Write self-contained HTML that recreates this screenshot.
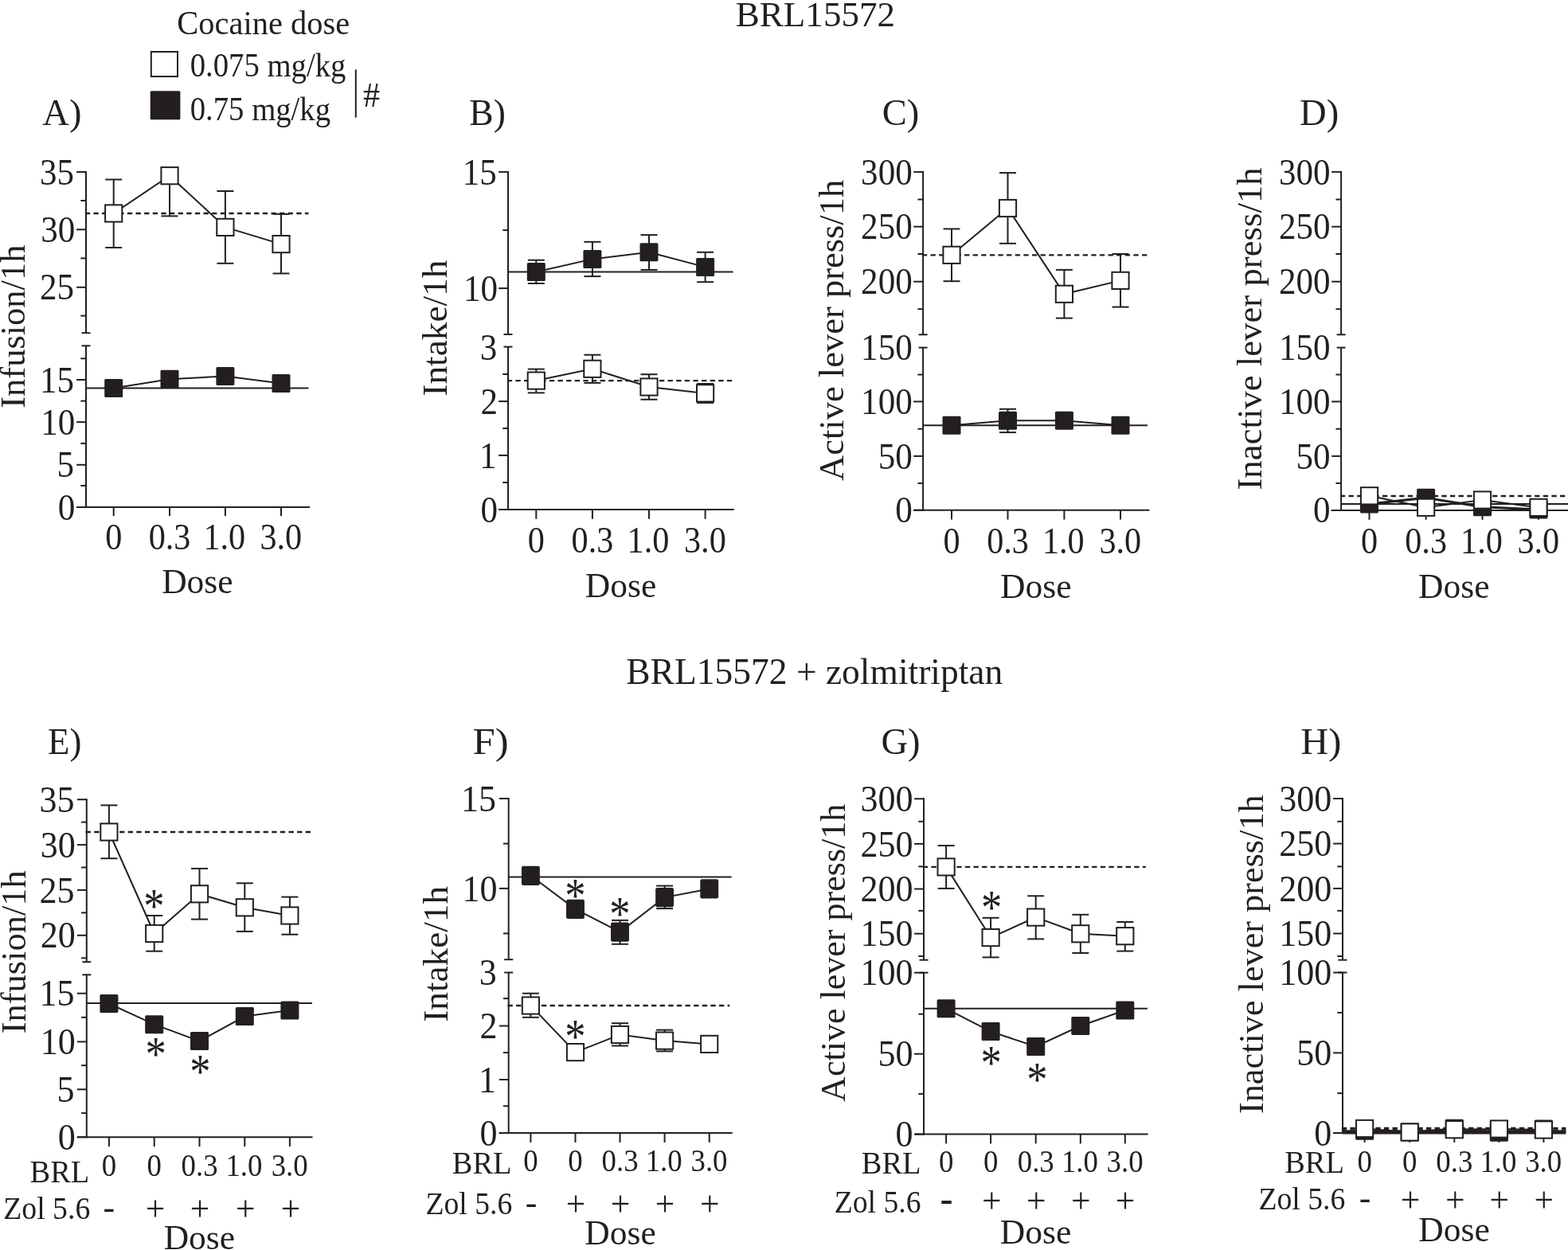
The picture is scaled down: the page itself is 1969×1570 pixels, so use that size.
<!DOCTYPE html>
<html lang="en">
<head>
<meta charset="utf-8">
<title>BRL15572 and zolmitriptan: cocaine self-administration</title>
<style>
html,body{margin:0;padding:0;background:#fff;}
body{width:1969px;height:1570px;overflow:hidden;}
svg{display:block;}
svg text{font-family:"Liberation Serif", "Times New Roman", Times, serif;fill:#231f20;}
svg line,svg polyline{stroke:#231f20;}
</style>
</head>
<body>
<svg width="1969" height="1570" viewBox="0 0 1969 1570" role="img" aria-label="Line charts of cocaine self-administration after BRL15572 alone and with zolmitriptan">
<rect width="1969" height="1570" fill="#fff"/>
<g id="panel-A">
<g class="axis">
<line x1="108" y1="215" x2="108" y2="418.2" stroke-width="2"/>
<line x1="108" y1="434.3" x2="108" y2="638" stroke-width="2"/>
<line x1="102.5" y1="418.2" x2="113.5" y2="418.2" stroke-width="2"/>
<line x1="102.5" y1="434.3" x2="113.5" y2="434.3" stroke-width="2"/>
<line x1="96.1" y1="216" x2="108" y2="216" stroke-width="2"/>
<line x1="96.1" y1="288.3" x2="108" y2="288.3" stroke-width="2"/>
<line x1="96.1" y1="360.8" x2="108" y2="360.8" stroke-width="2"/>
<line x1="96.1" y1="477" x2="108" y2="477" stroke-width="2"/>
<line x1="96.1" y1="530.15" x2="108" y2="530.15" stroke-width="2"/>
<line x1="96.1" y1="583.8" x2="108" y2="583.8" stroke-width="2"/>
<line x1="96.1" y1="637" x2="108" y2="637" stroke-width="2"/>
<line x1="101.3" y1="252" x2="108" y2="252" stroke-width="2"/>
<line x1="101.3" y1="324.4" x2="108" y2="324.4" stroke-width="2"/>
<line x1="101.3" y1="396.6" x2="108" y2="396.6" stroke-width="2"/>
<line x1="101.3" y1="450.3" x2="108" y2="450.3" stroke-width="2"/>
<line x1="101.3" y1="503.6" x2="108" y2="503.6" stroke-width="2"/>
<line x1="101.3" y1="556.9" x2="108" y2="556.9" stroke-width="2"/>
<line x1="101.3" y1="610" x2="108" y2="610" stroke-width="2"/>
<line x1="96.2" y1="637" x2="389" y2="637" stroke-width="2"/>
<line x1="142.7" y1="637" x2="142.7" y2="648" stroke-width="2"/>
<line x1="213" y1="637" x2="213" y2="648" stroke-width="2"/>
<line x1="282.9" y1="637" x2="282.9" y2="648" stroke-width="2"/>
<line x1="353" y1="637" x2="353" y2="648" stroke-width="2"/>
</g>
<g class="ticklabels">
<text transform="translate(50.04 231.6) scale(0.9490 1)" font-size="45.4">35</text>
<text transform="translate(51.33 303.9) scale(0.9490 1)" font-size="45.4">30</text>
<text transform="translate(50.04 376.4) scale(0.9490 1)" font-size="45.4">25</text>
<text transform="translate(50.04 492.6) scale(0.9490 1)" font-size="45.4">15</text>
<text transform="translate(51.33 545.75) scale(0.9490 1)" font-size="45.4">10</text>
<text transform="translate(71.58 599.4) scale(0.9490 1)" font-size="45.4">5</text>
<text transform="translate(72.87 652.6) scale(0.9490 1)" font-size="45.4">0</text>
<text transform="translate(132.14 690.2) scale(0.9180 1)" font-size="46">0</text>
<text transform="translate(186.66 690.2) scale(0.9180 1)" font-size="46">0.3</text>
<text transform="translate(255.45 690.2) scale(0.9180 1)" font-size="46">1.0</text>
<text transform="translate(326.4 690.2) scale(0.9180 1)" font-size="46">3.0</text>
</g>
<g class="data">
<line x1="106.8" y1="268" x2="387.5" y2="268" stroke-width="2.3" stroke-dasharray="6.3 4.32"/>
<line x1="108" y1="487.5" x2="387.5" y2="487.5" stroke-width="2"/>
<line x1="142.7" y1="225.5" x2="142.7" y2="311" stroke-width="2"/>
<line x1="132.2" y1="225.5" x2="153.2" y2="225.5" stroke-width="2"/>
<line x1="132.2" y1="311" x2="153.2" y2="311" stroke-width="2"/>
<line x1="213" y1="220.7" x2="213" y2="271.4" stroke-width="2"/>
<line x1="202.5" y1="220.7" x2="223.5" y2="220.7" stroke-width="2"/>
<line x1="202.5" y1="271.4" x2="223.5" y2="271.4" stroke-width="2"/>
<line x1="282.9" y1="240" x2="282.9" y2="330.8" stroke-width="2"/>
<line x1="272.4" y1="240" x2="293.4" y2="240" stroke-width="2"/>
<line x1="272.4" y1="330.8" x2="293.4" y2="330.8" stroke-width="2"/>
<line x1="353" y1="268.9" x2="353" y2="343.5" stroke-width="2"/>
<line x1="342.5" y1="268.9" x2="363.5" y2="268.9" stroke-width="2"/>
<line x1="342.5" y1="343.5" x2="363.5" y2="343.5" stroke-width="2"/>
<polyline points="142.7,268 213,220.7 282.9,285.4 353,306.6" fill="none" stroke-width="2"/>
<rect x="132.1" y="257.4" width="21.2" height="21.2" fill="#fff" stroke="#231f20" stroke-width="2"/>
<rect x="202.4" y="210.1" width="21.2" height="21.2" fill="#fff" stroke="#231f20" stroke-width="2"/>
<rect x="272.3" y="274.8" width="21.2" height="21.2" fill="#fff" stroke="#231f20" stroke-width="2"/>
<rect x="342.4" y="296" width="21.2" height="21.2" fill="#fff" stroke="#231f20" stroke-width="2"/>
<polyline points="142.7,487.5 213,476.3 282.9,472.5 353,481.4" fill="none" stroke-width="2"/>
<rect x="131.2" y="476" width="23" height="23" rx="1.5" fill="#231f20"/>
<rect x="201.5" y="464.8" width="23" height="23" rx="1.5" fill="#231f20"/>
<rect x="271.4" y="461" width="23" height="23" rx="1.5" fill="#231f20"/>
<rect x="341.5" y="469.9" width="23" height="23" rx="1.5" fill="#231f20"/>
</g>
<g class="labels">
<text transform="translate(53.33 156.7) scale(0.9900 1)" font-size="47">A)</text>
<text transform="translate(31.2 409.65) rotate(-90) translate(-103.07 0) scale(1.0000 1)" font-size="44.5">Infusion/1h</text>
<text transform="translate(203.17 745) scale(0.9720 1)" font-size="44.8">Dose</text>
</g>
</g>
<g id="panel-B">
<g class="axis">
<line x1="638" y1="214.9" x2="638" y2="420" stroke-width="2"/>
<line x1="638" y1="435.6" x2="638" y2="641" stroke-width="2"/>
<line x1="632.5" y1="420" x2="643.5" y2="420" stroke-width="2"/>
<line x1="632.5" y1="435.6" x2="643.5" y2="435.6" stroke-width="2"/>
<line x1="626.1" y1="215.9" x2="638" y2="215.9" stroke-width="2"/>
<line x1="626.1" y1="362.1" x2="638" y2="362.1" stroke-width="2"/>
<line x1="626.1" y1="504.1" x2="638" y2="504.1" stroke-width="2"/>
<line x1="626.1" y1="571.9" x2="638" y2="571.9" stroke-width="2"/>
<line x1="626.1" y1="640" x2="638" y2="640" stroke-width="2"/>
<line x1="631.3" y1="289.1" x2="638" y2="289.1" stroke-width="2"/>
<line x1="631.3" y1="470" x2="638" y2="470" stroke-width="2"/>
<line x1="631.3" y1="538" x2="638" y2="538" stroke-width="2"/>
<line x1="631.3" y1="606" x2="638" y2="606" stroke-width="2"/>
<line x1="626.2" y1="640" x2="921.8" y2="640" stroke-width="2"/>
<line x1="673.3" y1="640" x2="673.3" y2="651.8" stroke-width="2"/>
<line x1="743.9" y1="640" x2="743.9" y2="651.8" stroke-width="2"/>
<line x1="815" y1="640" x2="815" y2="651.8" stroke-width="2"/>
<line x1="885.6" y1="640" x2="885.6" y2="651.8" stroke-width="2"/>
</g>
<g class="ticklabels">
<text transform="translate(580.64 231.5) scale(0.9490 1)" font-size="45.4">15</text>
<text transform="translate(581.93 377.7) scale(0.9490 1)" font-size="45.4">10</text>
<text transform="translate(602.78 451.8) scale(0.9490 1)" font-size="45.4">3</text>
<text transform="translate(603.43 519.7) scale(0.9490 1)" font-size="45.4">2</text>
<text transform="translate(602.04 587.5) scale(0.9490 1)" font-size="45.4">1</text>
<text transform="translate(603.47 655.6) scale(0.9490 1)" font-size="45.4">0</text>
<text transform="translate(662.74 694) scale(0.9180 1)" font-size="46">0</text>
<text transform="translate(717.56 694) scale(0.9180 1)" font-size="46">0.3</text>
<text transform="translate(787.55 694) scale(0.9180 1)" font-size="46">1.0</text>
<text transform="translate(859 694) scale(0.9180 1)" font-size="46">3.0</text>
</g>
<g class="data">
<line x1="636.8" y1="478.1" x2="920.5" y2="478.1" stroke-width="2.3" stroke-dasharray="6.3 4.32"/>
<line x1="638" y1="341.4" x2="920.5" y2="341.4" stroke-width="2"/>
<line x1="673.3" y1="326.7" x2="673.3" y2="356" stroke-width="2"/>
<line x1="662.8" y1="326.7" x2="683.8" y2="326.7" stroke-width="2"/>
<line x1="662.8" y1="356" x2="683.8" y2="356" stroke-width="2"/>
<line x1="743.9" y1="303.8" x2="743.9" y2="347.1" stroke-width="2"/>
<line x1="733.4" y1="303.8" x2="754.4" y2="303.8" stroke-width="2"/>
<line x1="733.4" y1="347.1" x2="754.4" y2="347.1" stroke-width="2"/>
<line x1="815" y1="295.1" x2="815" y2="338.9" stroke-width="2"/>
<line x1="804.5" y1="295.1" x2="825.5" y2="295.1" stroke-width="2"/>
<line x1="804.5" y1="338.9" x2="825.5" y2="338.9" stroke-width="2"/>
<line x1="885.6" y1="316.8" x2="885.6" y2="354.2" stroke-width="2"/>
<line x1="875.1" y1="316.8" x2="896.1" y2="316.8" stroke-width="2"/>
<line x1="875.1" y1="354.2" x2="896.1" y2="354.2" stroke-width="2"/>
<polyline points="673.3,341.5 743.9,325.4 815,316.8 885.6,335.4" fill="none" stroke-width="2"/>
<rect x="661.8" y="330" width="23" height="23" rx="1.5" fill="#231f20"/>
<rect x="732.4" y="313.9" width="23" height="23" rx="1.5" fill="#231f20"/>
<rect x="803.5" y="305.3" width="23" height="23" rx="1.5" fill="#231f20"/>
<rect x="874.1" y="323.9" width="23" height="23" rx="1.5" fill="#231f20"/>
<line x1="673.3" y1="463.6" x2="673.3" y2="493.4" stroke-width="2"/>
<line x1="662.8" y1="463.6" x2="683.8" y2="463.6" stroke-width="2"/>
<line x1="662.8" y1="493.4" x2="683.8" y2="493.4" stroke-width="2"/>
<line x1="743.9" y1="445.7" x2="743.9" y2="480.9" stroke-width="2"/>
<line x1="733.4" y1="445.7" x2="754.4" y2="445.7" stroke-width="2"/>
<line x1="733.4" y1="480.9" x2="754.4" y2="480.9" stroke-width="2"/>
<line x1="815" y1="470.2" x2="815" y2="501.8" stroke-width="2"/>
<line x1="804.5" y1="470.2" x2="825.5" y2="470.2" stroke-width="2"/>
<line x1="804.5" y1="501.8" x2="825.5" y2="501.8" stroke-width="2"/>
<line x1="885.6" y1="482" x2="885.6" y2="505.9" stroke-width="2"/>
<line x1="875.1" y1="482" x2="896.1" y2="482" stroke-width="2"/>
<line x1="875.1" y1="505.9" x2="896.1" y2="505.9" stroke-width="2"/>
<polyline points="673.3,478.1 743.9,463.3 815,486 885.6,493.9" fill="none" stroke-width="2"/>
<rect x="662.7" y="467.5" width="21.2" height="21.2" fill="#fff" stroke="#231f20" stroke-width="2"/>
<rect x="733.3" y="452.7" width="21.2" height="21.2" fill="#fff" stroke="#231f20" stroke-width="2"/>
<rect x="804.4" y="475.4" width="21.2" height="21.2" fill="#fff" stroke="#231f20" stroke-width="2"/>
<rect x="875" y="483.3" width="21.2" height="21.2" fill="#fff" stroke="#231f20" stroke-width="2"/>
</g>
<g class="labels">
<text transform="translate(589.25 156.7) scale(0.9700 1)" font-size="47">B)</text>
<text transform="translate(561 411.6) rotate(-90) translate(-86.07 0) scale(1.0180 1)" font-size="44.5">Intake/1h</text>
<text transform="translate(734.87 749.5) scale(0.9720 1)" font-size="44.8">Dose</text>
</g>
</g>
<g id="panel-C">
<g class="axis">
<line x1="1159.1" y1="214.9" x2="1159.1" y2="420.3" stroke-width="2"/>
<line x1="1159.1" y1="436.6" x2="1159.1" y2="641.8" stroke-width="2"/>
<line x1="1153.6" y1="420.3" x2="1164.6" y2="420.3" stroke-width="2"/>
<line x1="1153.6" y1="436.6" x2="1164.6" y2="436.6" stroke-width="2"/>
<line x1="1147.2" y1="215.9" x2="1159.1" y2="215.9" stroke-width="2"/>
<line x1="1147.2" y1="284.7" x2="1159.1" y2="284.7" stroke-width="2"/>
<line x1="1147.2" y1="353.7" x2="1159.1" y2="353.7" stroke-width="2"/>
<line x1="1147.2" y1="504.4" x2="1159.1" y2="504.4" stroke-width="2"/>
<line x1="1147.2" y1="572.9" x2="1159.1" y2="572.9" stroke-width="2"/>
<line x1="1147.2" y1="640.8" x2="1159.1" y2="640.8" stroke-width="2"/>
<line x1="1152.4" y1="250.5" x2="1159.1" y2="250.5" stroke-width="2"/>
<line x1="1152.4" y1="319" x2="1159.1" y2="319" stroke-width="2"/>
<line x1="1152.4" y1="388.2" x2="1159.1" y2="388.2" stroke-width="2"/>
<line x1="1152.4" y1="470.5" x2="1159.1" y2="470.5" stroke-width="2"/>
<line x1="1152.4" y1="538.7" x2="1159.1" y2="538.7" stroke-width="2"/>
<line x1="1152.4" y1="606.9" x2="1159.1" y2="606.9" stroke-width="2"/>
<line x1="1147.3" y1="640.8" x2="1443.4" y2="640.8" stroke-width="2"/>
<line x1="1195" y1="640.8" x2="1195" y2="652.6" stroke-width="2"/>
<line x1="1265.5" y1="640.8" x2="1265.5" y2="652.6" stroke-width="2"/>
<line x1="1336.4" y1="640.8" x2="1336.4" y2="652.6" stroke-width="2"/>
<line x1="1407" y1="640.8" x2="1407" y2="652.6" stroke-width="2"/>
</g>
<g class="ticklabels">
<text transform="translate(1081.09 231.5) scale(0.9490 1)" font-size="45.4">300</text>
<text transform="translate(1081.09 300.3) scale(0.9490 1)" font-size="45.4">250</text>
<text transform="translate(1081.09 369.3) scale(0.9490 1)" font-size="45.4">200</text>
<text transform="translate(1081.09 452) scale(0.9490 1)" font-size="45.4">150</text>
<text transform="translate(1081.09 520) scale(0.9490 1)" font-size="45.4">100</text>
<text transform="translate(1102.63 588.5) scale(0.9490 1)" font-size="45.4">50</text>
<text transform="translate(1124.17 656.3) scale(0.9490 1)" font-size="45.4">0</text>
<text transform="translate(1184.44 695.1) scale(0.9180 1)" font-size="46">0</text>
<text transform="translate(1239.16 695.1) scale(0.9180 1)" font-size="46">0.3</text>
<text transform="translate(1308.95 695.1) scale(0.9180 1)" font-size="46">1.0</text>
<text transform="translate(1380.4 695.1) scale(0.9180 1)" font-size="46">3.0</text>
</g>
<g class="data">
<line x1="1157.9" y1="320.3" x2="1441" y2="320.3" stroke-width="2.3" stroke-dasharray="6.3 4.32"/>
<line x1="1159.1" y1="534.2" x2="1441" y2="534.2" stroke-width="2"/>
<line x1="1195" y1="287.5" x2="1195" y2="353.2" stroke-width="2"/>
<line x1="1184.5" y1="287.5" x2="1205.5" y2="287.5" stroke-width="2"/>
<line x1="1184.5" y1="353.2" x2="1205.5" y2="353.2" stroke-width="2"/>
<line x1="1265.5" y1="217.1" x2="1265.5" y2="305.8" stroke-width="2"/>
<line x1="1255" y1="217.1" x2="1276" y2="217.1" stroke-width="2"/>
<line x1="1255" y1="305.8" x2="1276" y2="305.8" stroke-width="2"/>
<line x1="1336.4" y1="338.9" x2="1336.4" y2="399.6" stroke-width="2"/>
<line x1="1325.9" y1="338.9" x2="1346.9" y2="338.9" stroke-width="2"/>
<line x1="1325.9" y1="399.6" x2="1346.9" y2="399.6" stroke-width="2"/>
<line x1="1407" y1="319" x2="1407" y2="385.6" stroke-width="2"/>
<line x1="1396.5" y1="319" x2="1417.5" y2="319" stroke-width="2"/>
<line x1="1396.5" y1="385.6" x2="1417.5" y2="385.6" stroke-width="2"/>
<polyline points="1195,320.3 1265.5,261.5 1336.4,369.3 1407,352.4" fill="none" stroke-width="2"/>
<rect x="1184.4" y="309.7" width="21.2" height="21.2" fill="#fff" stroke="#231f20" stroke-width="2"/>
<rect x="1254.9" y="250.9" width="21.2" height="21.2" fill="#fff" stroke="#231f20" stroke-width="2"/>
<rect x="1325.8" y="358.7" width="21.2" height="21.2" fill="#fff" stroke="#231f20" stroke-width="2"/>
<rect x="1396.4" y="341.8" width="21.2" height="21.2" fill="#fff" stroke="#231f20" stroke-width="2"/>
<line x1="1265.5" y1="513.8" x2="1265.5" y2="543.1" stroke-width="2"/>
<line x1="1255" y1="513.8" x2="1276" y2="513.8" stroke-width="2"/>
<line x1="1255" y1="543.1" x2="1276" y2="543.1" stroke-width="2"/>
<polyline points="1195,534.2 1265.5,528.3 1336.4,528.3 1407,534.2" fill="none" stroke-width="2"/>
<rect x="1183.5" y="522.7" width="23" height="23" rx="1.5" fill="#231f20"/>
<rect x="1254" y="516.8" width="23" height="23" rx="1.5" fill="#231f20"/>
<rect x="1324.9" y="516.8" width="23" height="23" rx="1.5" fill="#231f20"/>
<rect x="1395.5" y="522.7" width="23" height="23" rx="1.5" fill="#231f20"/>
</g>
<g class="labels">
<text transform="translate(1107.74 156.7) scale(0.9900 1)" font-size="47">C)</text>
<text transform="translate(1059.4 414.9) rotate(-90) translate(-189.01 0) scale(1.0000 1)" font-size="44.5">Active lever press/1h</text>
<text transform="translate(1256.07 750.5) scale(0.9720 1)" font-size="44.8">Dose</text>
</g>
</g>
<g id="panel-D">
<g class="axis">
<line x1="1684.1" y1="214.9" x2="1684.1" y2="420.3" stroke-width="2"/>
<line x1="1684.1" y1="436.6" x2="1684.1" y2="642" stroke-width="2"/>
<line x1="1678.6" y1="420.3" x2="1689.6" y2="420.3" stroke-width="2"/>
<line x1="1678.6" y1="436.6" x2="1689.6" y2="436.6" stroke-width="2"/>
<line x1="1672.2" y1="215.9" x2="1684.1" y2="215.9" stroke-width="2"/>
<line x1="1672.2" y1="284.7" x2="1684.1" y2="284.7" stroke-width="2"/>
<line x1="1672.2" y1="353.7" x2="1684.1" y2="353.7" stroke-width="2"/>
<line x1="1672.2" y1="504.4" x2="1684.1" y2="504.4" stroke-width="2"/>
<line x1="1672.2" y1="572.9" x2="1684.1" y2="572.9" stroke-width="2"/>
<line x1="1672.2" y1="641" x2="1684.1" y2="641" stroke-width="2"/>
<line x1="1677.4" y1="250.5" x2="1684.1" y2="250.5" stroke-width="2"/>
<line x1="1677.4" y1="319" x2="1684.1" y2="319" stroke-width="2"/>
<line x1="1677.4" y1="388.2" x2="1684.1" y2="388.2" stroke-width="2"/>
<line x1="1677.4" y1="470.5" x2="1684.1" y2="470.5" stroke-width="2"/>
<line x1="1677.4" y1="538.7" x2="1684.1" y2="538.7" stroke-width="2"/>
<line x1="1677.4" y1="606.9" x2="1684.1" y2="606.9" stroke-width="2"/>
<line x1="1671.6" y1="641" x2="1969" y2="641" stroke-width="2"/>
<line x1="1719.5" y1="641" x2="1719.5" y2="652.8" stroke-width="2"/>
<line x1="1790.6" y1="641" x2="1790.6" y2="652.8" stroke-width="2"/>
<line x1="1861.5" y1="641" x2="1861.5" y2="652.8" stroke-width="2"/>
<line x1="1932" y1="641" x2="1932" y2="652.8" stroke-width="2"/>
</g>
<g class="ticklabels">
<text transform="translate(1605.89 231.5) scale(0.9490 1)" font-size="45.4">300</text>
<text transform="translate(1605.89 300.3) scale(0.9490 1)" font-size="45.4">250</text>
<text transform="translate(1605.89 369.3) scale(0.9490 1)" font-size="45.4">200</text>
<text transform="translate(1605.89 452) scale(0.9490 1)" font-size="45.4">150</text>
<text transform="translate(1605.89 520) scale(0.9490 1)" font-size="45.4">100</text>
<text transform="translate(1627.43 588.5) scale(0.9490 1)" font-size="45.4">50</text>
<text transform="translate(1648.97 656.3) scale(0.9490 1)" font-size="45.4">0</text>
<text transform="translate(1708.94 695.1) scale(0.9180 1)" font-size="46">0</text>
<text transform="translate(1764.26 695.1) scale(0.9180 1)" font-size="46">0.3</text>
<text transform="translate(1834.05 695.1) scale(0.9180 1)" font-size="46">1.0</text>
<text transform="translate(1905.4 695.1) scale(0.9180 1)" font-size="46">3.0</text>
</g>
<g class="data">
<line x1="1682.9" y1="623" x2="1969" y2="623" stroke-width="2.3" stroke-dasharray="6.3 4.32"/>
<line x1="1684.1" y1="632.9" x2="1969" y2="632.9" stroke-width="2"/>
<polyline points="1719.5,633.1 1790.6,625.2 1861.5,636.8 1932,640" fill="none" stroke-width="3"/>
<rect x="1708" y="621.6" width="23" height="23" rx="1.5" fill="#231f20"/>
<rect x="1779.1" y="613.7" width="23" height="23" rx="1.5" fill="#231f20"/>
<rect x="1850" y="625.3" width="23" height="23" rx="1.5" fill="#231f20"/>
<rect x="1920.5" y="628.5" width="23" height="23" rx="1.5" fill="#231f20"/>
<polyline points="1719.5,622.8 1790.6,637.3 1861.5,628 1932,637.4" fill="none" stroke-width="2"/>
<rect x="1708.9" y="612.2" width="21.2" height="21.2" fill="#fff" stroke="#231f20" stroke-width="2"/>
<rect x="1780" y="626.7" width="21.2" height="21.2" fill="#fff" stroke="#231f20" stroke-width="2"/>
<rect x="1850.9" y="617.4" width="21.2" height="21.2" fill="#fff" stroke="#231f20" stroke-width="2"/>
<rect x="1921.4" y="626.8" width="21.2" height="21.2" fill="#fff" stroke="#231f20" stroke-width="2"/>
</g>
<g class="labels">
<text transform="translate(1632.12 156.7) scale(0.9900 1)" font-size="47">D)</text>
<text transform="translate(1584.1 412.4) rotate(-90) translate(-203.13 0) scale(1.0060 1)" font-size="44.5">Inactive lever press/1h</text>
<text transform="translate(1781.07 750.5) scale(0.9720 1)" font-size="44.8">Dose</text>
</g>
</g>
<g id="panel-E">
<g class="axis">
<line x1="108.8" y1="1003.2" x2="108.8" y2="1208.2" stroke-width="2"/>
<line x1="108.8" y1="1224.3" x2="108.8" y2="1429.2" stroke-width="2"/>
<line x1="103.3" y1="1208.2" x2="114.3" y2="1208.2" stroke-width="2"/>
<line x1="103.3" y1="1224.3" x2="114.3" y2="1224.3" stroke-width="2"/>
<line x1="96.9" y1="1004.2" x2="108.8" y2="1004.2" stroke-width="2"/>
<line x1="96.9" y1="1061.1" x2="108.8" y2="1061.1" stroke-width="2"/>
<line x1="96.9" y1="1117.9" x2="108.8" y2="1117.9" stroke-width="2"/>
<line x1="96.9" y1="1174.8" x2="108.8" y2="1174.8" stroke-width="2"/>
<line x1="96.9" y1="1247.7" x2="108.8" y2="1247.7" stroke-width="2"/>
<line x1="96.9" y1="1308.4" x2="108.8" y2="1308.4" stroke-width="2"/>
<line x1="96.9" y1="1368.3" x2="108.8" y2="1368.3" stroke-width="2"/>
<line x1="96.9" y1="1428.2" x2="108.8" y2="1428.2" stroke-width="2"/>
<line x1="102.1" y1="1032.6" x2="108.8" y2="1032.6" stroke-width="2"/>
<line x1="102.1" y1="1089.5" x2="108.8" y2="1089.5" stroke-width="2"/>
<line x1="102.1" y1="1146.4" x2="108.8" y2="1146.4" stroke-width="2"/>
<line x1="102.1" y1="1203.3" x2="108.8" y2="1203.3" stroke-width="2"/>
<line x1="102.1" y1="1277.8" x2="108.8" y2="1277.8" stroke-width="2"/>
<line x1="102.1" y1="1338.2" x2="108.8" y2="1338.2" stroke-width="2"/>
<line x1="102.1" y1="1398.1" x2="108.8" y2="1398.1" stroke-width="2"/>
<line x1="96.8" y1="1428.2" x2="392.5" y2="1428.2" stroke-width="2"/>
<line x1="136.9" y1="1428.2" x2="136.9" y2="1440" stroke-width="2"/>
<line x1="193.7" y1="1428.2" x2="193.7" y2="1440" stroke-width="2"/>
<line x1="250.5" y1="1428.2" x2="250.5" y2="1440" stroke-width="2"/>
<line x1="307.3" y1="1428.2" x2="307.3" y2="1440" stroke-width="2"/>
<line x1="363.9" y1="1428.2" x2="363.9" y2="1440" stroke-width="2"/>
</g>
<g class="ticklabels">
<text transform="translate(49.49 1019.8) scale(0.9580 1)" font-size="46">35</text>
<text transform="translate(50.78 1076.7) scale(0.9580 1)" font-size="46">30</text>
<text transform="translate(49.49 1133.5) scale(0.9580 1)" font-size="46">25</text>
<text transform="translate(50.78 1190.4) scale(0.9580 1)" font-size="46">20</text>
<text transform="translate(49.49 1263.3) scale(0.9580 1)" font-size="46">15</text>
<text transform="translate(50.78 1324) scale(0.9580 1)" font-size="46">10</text>
<text transform="translate(71.53 1383.9) scale(0.9580 1)" font-size="46">5</text>
<text transform="translate(72.82 1443.8) scale(0.9580 1)" font-size="46">0</text>
<text transform="translate(127.7 1476.9) scale(0.9200 1)" font-size="40">0</text>
<text transform="translate(184.5 1476.9) scale(0.9200 1)" font-size="40">0</text>
<text transform="translate(227.55 1476.9) scale(0.9200 1)" font-size="40">0.3</text>
<text transform="translate(283.38 1476.9) scale(0.9200 1)" font-size="40">1.0</text>
<text transform="translate(340.72 1476.9) scale(0.9200 1)" font-size="40">3.0</text>
</g>
<g class="data">
<line x1="107.6" y1="1045" x2="390" y2="1045" stroke-width="2.3" stroke-dasharray="6.3 4.32"/>
<line x1="108.8" y1="1260" x2="392" y2="1260" stroke-width="2"/>
<line x1="136.9" y1="1011.4" x2="136.9" y2="1078.2" stroke-width="2"/>
<line x1="126.4" y1="1011.4" x2="147.4" y2="1011.4" stroke-width="2"/>
<line x1="126.4" y1="1078.2" x2="147.4" y2="1078.2" stroke-width="2"/>
<line x1="193.7" y1="1150" x2="193.7" y2="1194.7" stroke-width="2"/>
<line x1="183.2" y1="1150" x2="204.2" y2="1150" stroke-width="2"/>
<line x1="183.2" y1="1194.7" x2="204.2" y2="1194.7" stroke-width="2"/>
<line x1="250.5" y1="1090.9" x2="250.5" y2="1154.6" stroke-width="2"/>
<line x1="240" y1="1090.9" x2="261" y2="1090.9" stroke-width="2"/>
<line x1="240" y1="1154.6" x2="261" y2="1154.6" stroke-width="2"/>
<line x1="307.3" y1="1109.3" x2="307.3" y2="1169.9" stroke-width="2"/>
<line x1="296.8" y1="1109.3" x2="317.8" y2="1109.3" stroke-width="2"/>
<line x1="296.8" y1="1169.9" x2="317.8" y2="1169.9" stroke-width="2"/>
<line x1="363.9" y1="1126.6" x2="363.9" y2="1173.7" stroke-width="2"/>
<line x1="353.4" y1="1126.6" x2="374.4" y2="1126.6" stroke-width="2"/>
<line x1="353.4" y1="1173.7" x2="374.4" y2="1173.7" stroke-width="2"/>
<polyline points="136.9,1045 193.7,1172.5 250.5,1122.8 307.3,1139.8 363.9,1150" fill="none" stroke-width="2"/>
<rect x="126.3" y="1034.4" width="21.2" height="21.2" fill="#fff" stroke="#231f20" stroke-width="2"/>
<rect x="183.1" y="1161.9" width="21.2" height="21.2" fill="#fff" stroke="#231f20" stroke-width="2"/>
<rect x="239.9" y="1112.2" width="21.2" height="21.2" fill="#fff" stroke="#231f20" stroke-width="2"/>
<rect x="296.7" y="1129.2" width="21.2" height="21.2" fill="#fff" stroke="#231f20" stroke-width="2"/>
<rect x="353.3" y="1139.4" width="21.2" height="21.2" fill="#fff" stroke="#231f20" stroke-width="2"/>
<polyline points="136.9,1260.5 193.7,1286.7 250.5,1307.6 307.3,1276.5 363.9,1268.9" fill="none" stroke-width="2"/>
<rect x="125.4" y="1249" width="23" height="23" rx="1.5" fill="#231f20"/>
<rect x="182.2" y="1275.2" width="23" height="23" rx="1.5" fill="#231f20"/>
<rect x="239" y="1296.1" width="23" height="23" rx="1.5" fill="#231f20"/>
<rect x="295.8" y="1265" width="23" height="23" rx="1.5" fill="#231f20"/>
<rect x="352.4" y="1257.4" width="23" height="23" rx="1.5" fill="#231f20"/>
<text transform="translate(180.34 1157.62) scale(0.8480 1)" font-size="62">*</text>
<text transform="translate(182.49 1343.72) scale(0.8480 1)" font-size="62">*</text>
<text transform="translate(238.24 1365.72) scale(0.8480 1)" font-size="62">*</text>
</g>
<g class="labels">
<text transform="translate(59.97 946.9) scale(0.9550 1)" font-size="47">E)</text>
<text transform="translate(31.9 1195.3) rotate(-90) translate(-103.07 0) scale(1.0000 1)" font-size="44.5">Infusion/1h</text>
<text transform="translate(205.67 1568.8) scale(0.9740 1)" font-size="44.7">Dose</text>
<text transform="translate(37.62 1484.7) scale(0.9600 1)" font-size="40">BRL</text>
<text transform="translate(4.29 1530.5) scale(0.9600 1)" font-size="39.3">Zol 5.6</text>
<text transform="translate(129.53 1530.54) scale(1.0000 1)" font-size="44">-</text>
<text transform="translate(182.71 1532.86) scale(1.0000 1)" font-size="43.5">+</text>
<text transform="translate(238.71 1532.86) scale(1.0000 1)" font-size="43.5">+</text>
<text transform="translate(296.11 1532.86) scale(1.0000 1)" font-size="43.5">+</text>
<text transform="translate(352.71 1532.86) scale(1.0000 1)" font-size="43.5">+</text>
</g>
</g>
<g id="panel-F">
<g class="axis">
<line x1="638.7" y1="1002" x2="638.7" y2="1205.2" stroke-width="2"/>
<line x1="638.7" y1="1221.5" x2="638.7" y2="1424.1" stroke-width="2"/>
<line x1="633.2" y1="1205.2" x2="644.2" y2="1205.2" stroke-width="2"/>
<line x1="633.2" y1="1221.5" x2="644.2" y2="1221.5" stroke-width="2"/>
<line x1="626.8" y1="1003" x2="638.7" y2="1003" stroke-width="2"/>
<line x1="626.8" y1="1115.9" x2="638.7" y2="1115.9" stroke-width="2"/>
<line x1="626.8" y1="1288.5" x2="638.7" y2="1288.5" stroke-width="2"/>
<line x1="626.8" y1="1356" x2="638.7" y2="1356" stroke-width="2"/>
<line x1="626.8" y1="1423.1" x2="638.7" y2="1423.1" stroke-width="2"/>
<line x1="632" y1="1059.6" x2="638.7" y2="1059.6" stroke-width="2"/>
<line x1="632" y1="1172.4" x2="638.7" y2="1172.4" stroke-width="2"/>
<line x1="632" y1="1254.1" x2="638.7" y2="1254.1" stroke-width="2"/>
<line x1="632" y1="1322.1" x2="638.7" y2="1322.1" stroke-width="2"/>
<line x1="632" y1="1389.2" x2="638.7" y2="1389.2" stroke-width="2"/>
<line x1="626.7" y1="1423.1" x2="919.7" y2="1423.1" stroke-width="2"/>
<line x1="666.4" y1="1423.1" x2="666.4" y2="1434.9" stroke-width="2"/>
<line x1="722.5" y1="1423.1" x2="722.5" y2="1434.9" stroke-width="2"/>
<line x1="778.5" y1="1423.1" x2="778.5" y2="1434.9" stroke-width="2"/>
<line x1="834.6" y1="1423.1" x2="834.6" y2="1434.9" stroke-width="2"/>
<line x1="890.7" y1="1423.1" x2="890.7" y2="1434.9" stroke-width="2"/>
</g>
<g class="ticklabels">
<text transform="translate(579.09 1018.6) scale(0.9580 1)" font-size="46">15</text>
<text transform="translate(580.38 1131.5) scale(0.9580 1)" font-size="46">10</text>
<text transform="translate(601.73 1237.1) scale(0.9580 1)" font-size="46">3</text>
<text transform="translate(602.39 1304.1) scale(0.9580 1)" font-size="46">2</text>
<text transform="translate(601.01 1371.6) scale(0.9580 1)" font-size="46">1</text>
<text transform="translate(602.42 1438.7) scale(0.9580 1)" font-size="46">0</text>
<text transform="translate(657.2 1470.7) scale(0.9200 1)" font-size="40">0</text>
<text transform="translate(713.3 1470.7) scale(0.9200 1)" font-size="40">0</text>
<text transform="translate(755.55 1470.7) scale(0.9200 1)" font-size="40">0.3</text>
<text transform="translate(810.68 1470.7) scale(0.9200 1)" font-size="40">1.0</text>
<text transform="translate(867.52 1470.7) scale(0.9200 1)" font-size="40">3.0</text>
</g>
<g class="data">
<line x1="637.5" y1="1263" x2="916.3" y2="1263" stroke-width="2.3" stroke-dasharray="6.3 4.32"/>
<line x1="638.7" y1="1101.6" x2="918.7" y2="1101.6" stroke-width="2"/>
<line x1="778.5" y1="1155.9" x2="778.5" y2="1185.8" stroke-width="2"/>
<line x1="768" y1="1155.9" x2="789" y2="1155.9" stroke-width="2"/>
<line x1="768" y1="1185.8" x2="789" y2="1185.8" stroke-width="2"/>
<line x1="834.6" y1="1112.6" x2="834.6" y2="1141.1" stroke-width="2"/>
<line x1="824.1" y1="1112.6" x2="845.1" y2="1112.6" stroke-width="2"/>
<line x1="824.1" y1="1141.1" x2="845.1" y2="1141.1" stroke-width="2"/>
<polyline points="666.4,1099.8 722.5,1141.9 778.5,1170.6 834.6,1127.1 890.7,1116.4" fill="none" stroke-width="2"/>
<rect x="654.95" y="1087.65" width="22.9" height="24.3" rx="2.2" fill="#231f20"/>
<rect x="711.05" y="1129.75" width="22.9" height="24.3" rx="2.2" fill="#231f20"/>
<rect x="767.05" y="1158.45" width="22.9" height="24.3" rx="2.2" fill="#231f20"/>
<rect x="823.15" y="1114.95" width="22.9" height="24.3" rx="2.2" fill="#231f20"/>
<rect x="879.25" y="1104.25" width="22.9" height="24.3" rx="2.2" fill="#231f20"/>
<line x1="666.4" y1="1247.7" x2="666.4" y2="1277.8" stroke-width="2"/>
<line x1="655.9" y1="1247.7" x2="676.9" y2="1247.7" stroke-width="2"/>
<line x1="655.9" y1="1277.8" x2="676.9" y2="1277.8" stroke-width="2"/>
<line x1="778.5" y1="1285.2" x2="778.5" y2="1313.5" stroke-width="2"/>
<line x1="768" y1="1285.2" x2="789" y2="1285.2" stroke-width="2"/>
<line x1="768" y1="1313.5" x2="789" y2="1313.5" stroke-width="2"/>
<line x1="834.6" y1="1293.6" x2="834.6" y2="1320.4" stroke-width="2"/>
<line x1="824.1" y1="1293.6" x2="845.1" y2="1293.6" stroke-width="2"/>
<line x1="824.1" y1="1320.4" x2="845.1" y2="1320.4" stroke-width="2"/>
<polyline points="666.4,1263 722.5,1321.6 778.5,1299.5 834.6,1307.1 890.7,1311.4" fill="none" stroke-width="2"/>
<rect x="655.8" y="1252.4" width="21.2" height="21.2" fill="#fff" stroke="#231f20" stroke-width="2"/>
<rect x="711.9" y="1311" width="21.2" height="21.2" fill="#fff" stroke="#231f20" stroke-width="2"/>
<rect x="767.9" y="1288.9" width="21.2" height="21.2" fill="#fff" stroke="#231f20" stroke-width="2"/>
<rect x="824" y="1296.5" width="21.2" height="21.2" fill="#fff" stroke="#231f20" stroke-width="2"/>
<rect x="880.1" y="1300.8" width="21.2" height="21.2" fill="#fff" stroke="#231f20" stroke-width="2"/>
<text transform="translate(709.14 1145.32) scale(0.8480 1)" font-size="62">*</text>
<text transform="translate(765.14 1167.52) scale(0.8480 1)" font-size="62">*</text>
<text transform="translate(709.14 1322.02) scale(0.8480 1)" font-size="62">*</text>
</g>
<g class="labels">
<text transform="translate(593.6 946.9) scale(1.0800 1)" font-size="47">F)</text>
<text transform="translate(561.9 1197.8) rotate(-90) translate(-85.9 0) scale(1.0160 1)" font-size="44.5">Intake/1h</text>
<text transform="translate(734.37 1562.5) scale(0.9740 1)" font-size="44.7">Dose</text>
<text transform="translate(567.82 1474) scale(0.9600 1)" font-size="40">BRL</text>
<text transform="translate(534.39 1525.2) scale(0.9600 1)" font-size="39.3">Zol 5.6</text>
<text transform="translate(659.63 1524.94) scale(1.0000 1)" font-size="44">-</text>
<text transform="translate(710.71 1527.26) scale(1.0000 1)" font-size="43.5">+</text>
<text transform="translate(766.71 1527.26) scale(1.0000 1)" font-size="43.5">+</text>
<text transform="translate(822.71 1527.26) scale(1.0000 1)" font-size="43.5">+</text>
<text transform="translate(878.91 1527.26) scale(1.0000 1)" font-size="43.5">+</text>
</g>
</g>
<g id="panel-G">
<g class="axis">
<line x1="1160" y1="1002.3" x2="1160" y2="1205.7" stroke-width="2"/>
<line x1="1160" y1="1221.7" x2="1160" y2="1425.6" stroke-width="2"/>
<line x1="1154.5" y1="1205.7" x2="1165.5" y2="1205.7" stroke-width="2"/>
<line x1="1154.5" y1="1221.7" x2="1165.5" y2="1221.7" stroke-width="2"/>
<line x1="1148.1" y1="1003.3" x2="1160" y2="1003.3" stroke-width="2"/>
<line x1="1148.1" y1="1059.9" x2="1160" y2="1059.9" stroke-width="2"/>
<line x1="1148.1" y1="1116.5" x2="1160" y2="1116.5" stroke-width="2"/>
<line x1="1148.1" y1="1172.7" x2="1160" y2="1172.7" stroke-width="2"/>
<line x1="1148.1" y1="1221.7" x2="1160" y2="1221.7" stroke-width="2"/>
<line x1="1148.1" y1="1323.7" x2="1160" y2="1323.7" stroke-width="2"/>
<line x1="1148.1" y1="1424.6" x2="1160" y2="1424.6" stroke-width="2"/>
<line x1="1153.3" y1="1031.8" x2="1160" y2="1031.8" stroke-width="2"/>
<line x1="1153.3" y1="1088.4" x2="1160" y2="1088.4" stroke-width="2"/>
<line x1="1153.3" y1="1143.9" x2="1160" y2="1143.9" stroke-width="2"/>
<line x1="1153.3" y1="1201" x2="1160" y2="1201" stroke-width="2"/>
<line x1="1153.3" y1="1273.7" x2="1160" y2="1273.7" stroke-width="2"/>
<line x1="1153.3" y1="1373.9" x2="1160" y2="1373.9" stroke-width="2"/>
<line x1="1148.6" y1="1424.6" x2="1441.6" y2="1424.6" stroke-width="2"/>
<line x1="1188.1" y1="1424.6" x2="1188.1" y2="1436.4" stroke-width="2"/>
<line x1="1244.1" y1="1424.6" x2="1244.1" y2="1436.4" stroke-width="2"/>
<line x1="1300.7" y1="1424.6" x2="1300.7" y2="1436.4" stroke-width="2"/>
<line x1="1356.8" y1="1424.6" x2="1356.8" y2="1436.4" stroke-width="2"/>
<line x1="1412.8" y1="1424.6" x2="1412.8" y2="1436.4" stroke-width="2"/>
</g>
<g class="ticklabels">
<text transform="translate(1080.55 1018.9) scale(0.9580 1)" font-size="46">300</text>
<text transform="translate(1080.55 1075.5) scale(0.9580 1)" font-size="46">250</text>
<text transform="translate(1080.55 1132.1) scale(0.9580 1)" font-size="46">200</text>
<text transform="translate(1080.55 1188.3) scale(0.9580 1)" font-size="46">150</text>
<text transform="translate(1080.55 1237.3) scale(0.9580 1)" font-size="46">100</text>
<text transform="translate(1102.58 1339.3) scale(0.9580 1)" font-size="46">50</text>
<text transform="translate(1124.62 1440.2) scale(0.9580 1)" font-size="46">0</text>
<text transform="translate(1178.9 1472) scale(0.9200 1)" font-size="40">0</text>
<text transform="translate(1234.9 1472) scale(0.9200 1)" font-size="40">0</text>
<text transform="translate(1277.75 1472) scale(0.9200 1)" font-size="40">0.3</text>
<text transform="translate(1332.88 1472) scale(0.9200 1)" font-size="40">1.0</text>
<text transform="translate(1389.62 1472) scale(0.9200 1)" font-size="40">3.0</text>
</g>
<g class="data">
<line x1="1158.8" y1="1088.9" x2="1438.8" y2="1088.9" stroke-width="2.3" stroke-dasharray="6.3 4.32"/>
<line x1="1160" y1="1266.8" x2="1440.9" y2="1266.8" stroke-width="2"/>
<line x1="1188.1" y1="1062.1" x2="1188.1" y2="1115.9" stroke-width="2"/>
<line x1="1177.6" y1="1062.1" x2="1198.6" y2="1062.1" stroke-width="2"/>
<line x1="1177.6" y1="1115.9" x2="1198.6" y2="1115.9" stroke-width="2"/>
<line x1="1244.1" y1="1152.8" x2="1244.1" y2="1202.4" stroke-width="2"/>
<line x1="1233.6" y1="1152.8" x2="1254.6" y2="1152.8" stroke-width="2"/>
<line x1="1233.6" y1="1202.4" x2="1254.6" y2="1202.4" stroke-width="2"/>
<line x1="1300.7" y1="1125.3" x2="1300.7" y2="1179.4" stroke-width="2"/>
<line x1="1290.2" y1="1125.3" x2="1311.2" y2="1125.3" stroke-width="2"/>
<line x1="1290.2" y1="1179.4" x2="1311.2" y2="1179.4" stroke-width="2"/>
<line x1="1356.8" y1="1148.8" x2="1356.8" y2="1197" stroke-width="2"/>
<line x1="1346.3" y1="1148.8" x2="1367.3" y2="1148.8" stroke-width="2"/>
<line x1="1346.3" y1="1197" x2="1367.3" y2="1197" stroke-width="2"/>
<line x1="1412.8" y1="1158" x2="1412.8" y2="1194.6" stroke-width="2"/>
<line x1="1402.3" y1="1158" x2="1423.3" y2="1158" stroke-width="2"/>
<line x1="1402.3" y1="1194.6" x2="1423.3" y2="1194.6" stroke-width="2"/>
<polyline points="1188.1,1088.9 1244.1,1177.6 1300.7,1152.1 1356.8,1172.8 1412.8,1175.7" fill="none" stroke-width="2"/>
<rect x="1177.5" y="1078.3" width="21.2" height="21.2" fill="#fff" stroke="#231f20" stroke-width="2"/>
<rect x="1233.5" y="1167" width="21.2" height="21.2" fill="#fff" stroke="#231f20" stroke-width="2"/>
<rect x="1290.1" y="1141.5" width="21.2" height="21.2" fill="#fff" stroke="#231f20" stroke-width="2"/>
<rect x="1346.2" y="1162.2" width="21.2" height="21.2" fill="#fff" stroke="#231f20" stroke-width="2"/>
<rect x="1402.2" y="1165.1" width="21.2" height="21.2" fill="#fff" stroke="#231f20" stroke-width="2"/>
<polyline points="1188.1,1266.8 1244.1,1295.6 1300.7,1314.5 1356.8,1288.5 1412.8,1268.9" fill="none" stroke-width="2"/>
<rect x="1176.6" y="1255.3" width="23" height="23" rx="1.5" fill="#231f20"/>
<rect x="1232.6" y="1284.1" width="23" height="23" rx="1.5" fill="#231f20"/>
<rect x="1289.2" y="1303" width="23" height="23" rx="1.5" fill="#231f20"/>
<rect x="1345.3" y="1277" width="23" height="23" rx="1.5" fill="#231f20"/>
<rect x="1401.3" y="1257.4" width="23" height="23" rx="1.5" fill="#231f20"/>
<text transform="translate(1232.04 1160.22) scale(0.8480 1)" font-size="62">*</text>
<text transform="translate(1231.54 1354.62) scale(0.8480 1)" font-size="62">*</text>
<text transform="translate(1289.14 1375.52) scale(0.8480 1)" font-size="62">*</text>
</g>
<g class="labels">
<text transform="translate(1106.44 946.9) scale(0.9900 1)" font-size="47">G)</text>
<text transform="translate(1061 1196.8) rotate(-90) translate(-187.12 0) scale(0.9900 1)" font-size="44.5">Active lever press/1h</text>
<text transform="translate(1255.87 1561.9) scale(0.9740 1)" font-size="44.7">Dose</text>
<text transform="translate(1081.82 1474) scale(0.9600 1)" font-size="40">BRL</text>
<text transform="translate(1047.69 1523.4) scale(0.9600 1)" font-size="39.3">Zol 5.6</text>
<text transform="translate(1180.51 1520.51) scale(1.0500 1)" font-size="46" font-weight="bold">-</text>
<text transform="translate(1232.91 1522.66) scale(1.0000 1)" font-size="43.5">+</text>
<text transform="translate(1288.91 1522.66) scale(1.0000 1)" font-size="43.5">+</text>
<text transform="translate(1345.01 1522.66) scale(1.0000 1)" font-size="43.5">+</text>
<text transform="translate(1400.81 1522.66) scale(1.0000 1)" font-size="43.5">+</text>
</g>
</g>
<g id="panel-H">
<g class="axis">
<line x1="1686" y1="1002" x2="1686" y2="1205.7" stroke-width="2"/>
<line x1="1686" y1="1221.5" x2="1686" y2="1424.1" stroke-width="2"/>
<line x1="1680.5" y1="1205.7" x2="1691.5" y2="1205.7" stroke-width="2"/>
<line x1="1680.5" y1="1221.5" x2="1691.5" y2="1221.5" stroke-width="2"/>
<line x1="1674.1" y1="1003" x2="1686" y2="1003" stroke-width="2"/>
<line x1="1674.1" y1="1059.6" x2="1686" y2="1059.6" stroke-width="2"/>
<line x1="1674.1" y1="1115.9" x2="1686" y2="1115.9" stroke-width="2"/>
<line x1="1674.1" y1="1172.5" x2="1686" y2="1172.5" stroke-width="2"/>
<line x1="1674.1" y1="1221.5" x2="1686" y2="1221.5" stroke-width="2"/>
<line x1="1674.1" y1="1322.4" x2="1686" y2="1322.4" stroke-width="2"/>
<line x1="1674.1" y1="1423.1" x2="1686" y2="1423.1" stroke-width="2"/>
<line x1="1679.3" y1="1031.8" x2="1686" y2="1031.8" stroke-width="2"/>
<line x1="1679.3" y1="1088.4" x2="1686" y2="1088.4" stroke-width="2"/>
<line x1="1679.3" y1="1143.9" x2="1686" y2="1143.9" stroke-width="2"/>
<line x1="1679.3" y1="1201" x2="1686" y2="1201" stroke-width="2"/>
<line x1="1679.3" y1="1271.9" x2="1686" y2="1271.9" stroke-width="2"/>
<line x1="1679.3" y1="1373.1" x2="1686" y2="1373.1" stroke-width="2"/>
<line x1="1674.2" y1="1423.1" x2="1966" y2="1423.1" stroke-width="2"/>
<line x1="1713.6" y1="1423.1" x2="1713.6" y2="1434.9" stroke-width="2"/>
<line x1="1770.2" y1="1423.1" x2="1770.2" y2="1434.9" stroke-width="2"/>
<line x1="1826.3" y1="1423.1" x2="1826.3" y2="1434.9" stroke-width="2"/>
<line x1="1882.4" y1="1423.1" x2="1882.4" y2="1434.9" stroke-width="2"/>
<line x1="1938.4" y1="1423.1" x2="1938.4" y2="1434.9" stroke-width="2"/>
</g>
<g class="ticklabels">
<text transform="translate(1606.25 1018.6) scale(0.9580 1)" font-size="46">300</text>
<text transform="translate(1606.25 1075.2) scale(0.9580 1)" font-size="46">250</text>
<text transform="translate(1606.25 1131.5) scale(0.9580 1)" font-size="46">200</text>
<text transform="translate(1606.25 1188.1) scale(0.9580 1)" font-size="46">150</text>
<text transform="translate(1606.25 1237.1) scale(0.9580 1)" font-size="46">100</text>
<text transform="translate(1628.28 1338) scale(0.9580 1)" font-size="46">50</text>
<text transform="translate(1650.32 1438.7) scale(0.9580 1)" font-size="46">0</text>
<text transform="translate(1704.4 1471.5) scale(0.9200 1)" font-size="40">0</text>
<text transform="translate(1761 1471.5) scale(0.9200 1)" font-size="40">0</text>
<text transform="translate(1803.35 1471.5) scale(0.9200 1)" font-size="40">0.3</text>
<text transform="translate(1858.48 1471.5) scale(0.9200 1)" font-size="40">1.0</text>
<text transform="translate(1915.22 1471.5) scale(0.9200 1)" font-size="40">3.0</text>
</g>
<g class="data">
<rect x="1686" y="1419.6" width="280.4" height="4.9" fill="#231f20"/>
<line x1="1684.8" y1="1417.7" x2="1966.4" y2="1417.7" stroke-width="3.8" stroke-dasharray="6.3 4.32"/>
<line x1="1686" y1="1420.5" x2="1966.4" y2="1420.5" stroke-width="2"/>
<polyline points="1713.6,1420.3 1770.2,1422 1826.3,1417.2 1882.4,1422.3 1938.4,1418" fill="none" stroke-width="2"/>
<rect x="1702.1" y="1408.8" width="23" height="23" rx="1.5" fill="#231f20"/>
<rect x="1758.7" y="1410.5" width="23" height="23" rx="1.5" fill="#231f20"/>
<rect x="1814.8" y="1405.7" width="23" height="23" rx="1.5" fill="#231f20"/>
<rect x="1870.9" y="1410.8" width="23" height="23" rx="1.5" fill="#231f20"/>
<rect x="1926.9" y="1406.5" width="23" height="23" rx="1.5" fill="#231f20"/>
<polyline points="1713.6,1417.5 1770.2,1422 1826.3,1418.7 1882.4,1418 1938.4,1419" fill="none" stroke-width="2"/>
<rect x="1703" y="1406.9" width="21.2" height="21.2" fill="#fff" stroke="#231f20" stroke-width="2"/>
<rect x="1759.6" y="1411.4" width="21.2" height="21.2" fill="#fff" stroke="#231f20" stroke-width="2"/>
<rect x="1815.7" y="1408.1" width="21.2" height="21.2" fill="#fff" stroke="#231f20" stroke-width="2"/>
<rect x="1871.8" y="1407.4" width="21.2" height="21.2" fill="#fff" stroke="#231f20" stroke-width="2"/>
<rect x="1927.8" y="1408.4" width="21.2" height="21.2" fill="#fff" stroke="#231f20" stroke-width="2"/>
</g>
<g class="labels">
<text transform="translate(1633.27 946.9) scale(1.0300 1)" font-size="47">H)</text>
<text transform="translate(1586.2 1198.1) rotate(-90) translate(-200.91 0) scale(0.9950 1)" font-size="44.5">Inactive lever press/1h</text>
<text transform="translate(1781.37 1559.1) scale(0.9740 1)" font-size="44.7">Dose</text>
<text transform="translate(1613.22 1472.5) scale(0.9600 1)" font-size="40">BRL</text>
<text transform="translate(1580.39 1519.4) scale(0.9600 1)" font-size="39.3">Zol 5.6</text>
<text transform="translate(1706.83 1519.34) scale(1.0000 1)" font-size="44">-</text>
<text transform="translate(1758.71 1521.66) scale(1.0000 1)" font-size="43.5">+</text>
<text transform="translate(1815.01 1521.66) scale(1.0000 1)" font-size="43.5">+</text>
<text transform="translate(1870.61 1521.66) scale(1.0000 1)" font-size="43.5">+</text>
<text transform="translate(1926.61 1521.66) scale(1.0000 1)" font-size="43.5">+</text>
</g>
</g>
<g id="titles">
<text transform="translate(923.74 32.6) scale(0.9950 1)" font-size="45.3">BRL15572</text>
<text transform="translate(786.27 859) scale(1.0000 1)" font-size="45.5">BRL15572 + zolmitriptan</text>
</g>
<g id="legend">
<text transform="translate(222.36 42.7) scale(0.9410 1)" font-size="43">Cocaine dose</text>
<rect x="189.8" y="65" width="33.2" height="31.1" fill="#fff" stroke="#231f20" stroke-width="2"/>
<rect x="188.7" y="114.3" width="37.7" height="36" rx="1.5" fill="#231f20"/>
<text transform="translate(238.75 96.4) scale(0.9150 1)" font-size="42.3">0.075 mg/kg</text>
<text transform="translate(238.75 150.7) scale(0.9150 1)" font-size="42.3">0.75 mg/kg</text>
<line x1="446.8" y1="87.4" x2="446.8" y2="147.6" stroke-width="2"/>
<text transform="translate(456.05 133.5) scale(0.9700 1)" font-size="43.5">#</text>
</g>
</svg>
</body>
</html>
